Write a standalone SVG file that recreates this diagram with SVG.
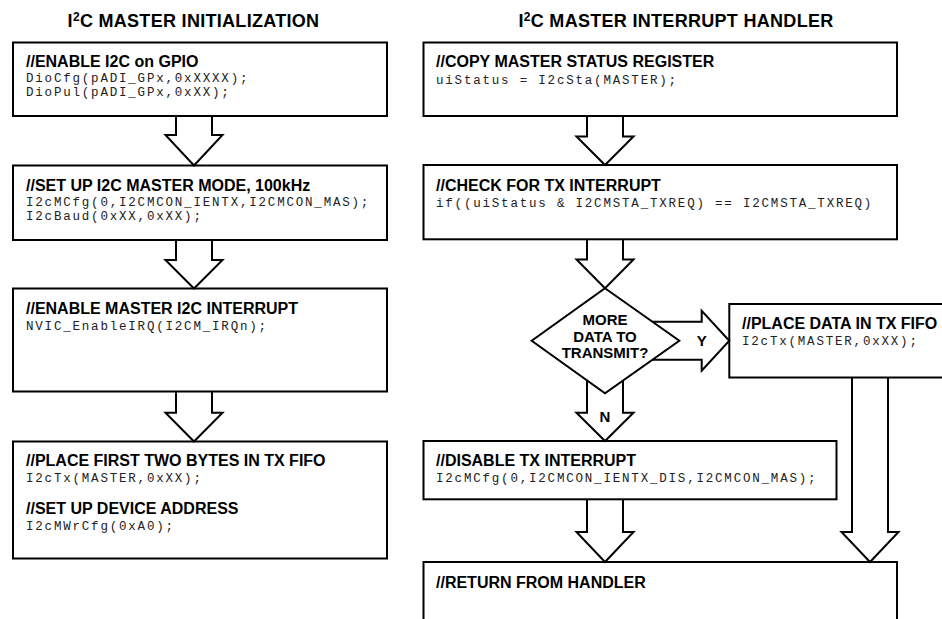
<svg xmlns="http://www.w3.org/2000/svg" width="942" height="619" viewBox="0 0 942 619">
<style>
.box{fill:#fff;stroke:#000;stroke-width:2}
.arr{fill:none;stroke:#000;stroke-width:2;stroke-linejoin:miter}
.title{font-family:"Liberation Sans",Arial,sans-serif;font-weight:bold;font-size:18px;letter-spacing:0.3px;fill:#000;text-anchor:middle}
.hd{font-family:"Liberation Sans",Arial,sans-serif;font-weight:bold;font-size:16px;fill:#000}
.code{font-family:"Liberation Mono","Courier New",monospace;font-size:12.5px;letter-spacing:1.8px;fill:#222}
.lbl{font-family:"Liberation Sans",Arial,sans-serif;font-weight:bold;font-size:15px;fill:#000;text-anchor:middle}
</style>
<rect width="942" height="619" fill="#fff"/>
<text class="title" x="193.5" y="27">I<tspan font-size="12" dy="-6">2</tspan><tspan dy="6">C MASTER INITIALIZATION</tspan></text>
<text class="title" x="676" y="27">I<tspan font-size="12" dy="-6">2</tspan><tspan dy="6">C MASTER INTERRUPT HANDLER</tspan></text>

<g id="init-gpio">
<rect class="box" x="13" y="42.5" width="374" height="73.5"/>
<text class="hd" x="26" y="67">//ENABLE I2C on GPIO</text>
<text class="code" x="26" y="81.5">DioCfg(pADI_GPx,0xXXXX);</text>
<text class="code" x="26" y="95.5">DioPul(pADI_GPx,0xXX);</text>
</g>
<g id="init-mode">
<rect class="box" x="13" y="165.5" width="374" height="74.5"/>
<text class="hd" x="26" y="190.5">//SET UP I2C MASTER MODE, 100kHz</text>
<text class="code" x="26" y="205.5">I2cMCfg(0,I2CMCON_IENTX,I2CMCON_MAS);</text>
<text class="code" x="26" y="219.5">I2cBaud(0xXX,0xXX);</text>
</g>
<g id="init-irq">
<rect class="box" x="13" y="288.5" width="374" height="103"/>
<text class="hd" x="26" y="314">//ENABLE MASTER I2C INTERRUPT</text>
<text class="code" x="26" y="330">NVIC_EnableIRQ(I2CM_IRQn);</text>
</g>
<g id="init-tx">
<rect class="box" x="13" y="441.5" width="374" height="117"/>
<text class="hd" x="26" y="466">//PLACE FIRST TWO BYTES IN TX FIFO</text>
<text class="code" x="26" y="482">I2cTx(MASTER,0xXX);</text>
<text class="hd" x="26" y="513.5">//SET UP DEVICE ADDRESS</text>
<text class="code" x="26" y="529.5">I2cMWrCfg(0xA0);</text>
</g>

<g id="isr-status">
<rect class="box" x="423.5" y="42.5" width="473.5" height="73.5"/>
<text class="hd" x="436" y="67.3">//COPY MASTER STATUS REGISTER</text>
<text class="code" x="436" y="83.5">uiStatus = I2cSta(MASTER);</text>
</g>
<g id="isr-check">
<rect class="box" x="423.5" y="165" width="473.5" height="74.3"/>
<text class="hd" x="436" y="191">//CHECK FOR TX INTERRUPT</text>
<text class="code" x="436" y="207">if((uiStatus &amp; I2CMSTA_TXREQ) == I2CMSTA_TXREQ)</text>
</g>
<g id="isr-decision">
<polygon class="box" points="605,288.3 679.3,340.7 605,393.2 531.7,340.7"/>
<text class="lbl" x="605" y="325">MORE</text>
<text class="lbl" x="605" y="341.7">DATA TO</text>
<text class="lbl" x="605" y="357.7">TRANSMIT?</text>
</g>
<g id="isr-place">
<rect class="box" x="729.3" y="304" width="250" height="73.5"/>
<text class="hd" x="742" y="329">//PLACE DATA IN TX FIFO</text>
<text class="code" x="742" y="344.5">I2cTx(MASTER,0xXX);</text>
</g>
<g id="isr-disable">
<rect class="box" x="423.5" y="441" width="413" height="58.3"/>
<text class="hd" x="436" y="466">//DISABLE TX INTERRUPT</text>
<text class="code" x="436" y="481.7">I2cMCfg(0,I2CMCON_IENTX_DIS,I2CMCON_MAS);</text>
</g>
<g id="isr-return">
<rect class="box" x="423.5" y="562" width="473.5" height="100"/>
<text class="hd" x="436" y="588">//RETURN FROM HANDLER</text>
</g>

<g id="connectors">
<path class="arr" d="M176,116 V135 H165.5 L194,165.5 L222.5,135 H212 V116"/>
<path class="arr" d="M176,240 V260 H165.5 L194,288.5 L222.5,260 H212 V240"/>
<path class="arr" d="M176,392 V412.7 H165.5 L194,441.5 L222.5,412.7 H212 V392"/>
<path class="arr" d="M587,116 V136.5 H576.5 L605,165 L633.5,136.5 H623 V116"/>
<path class="arr" d="M587,239.3 V259.5 H576.5 L605,288.3 L633.5,259.5 H623 V239.3"/>
<path class="arr" d="M587,380.4 V412.7 H576.5 L605,441 L633.5,412.7 H623 V380.6"/>
<path class="arr" d="M652.3,321.7 H701.7 V310.7 L729.3,340.7 L701.7,370.7 V359.7 H652.3"/>
<path class="arr" d="M587,499.3 V532 H576.5 L605,562 L633.5,532 H623 V499.3"/>
<path class="arr" d="M852,377.5 V532 H841.5 L870,562 L898.5,532 H888 V377.5"/>
<text class="lbl" x="701.7" y="346">Y</text>
<text class="lbl" x="605" y="422">N</text>
</g>
</svg>
